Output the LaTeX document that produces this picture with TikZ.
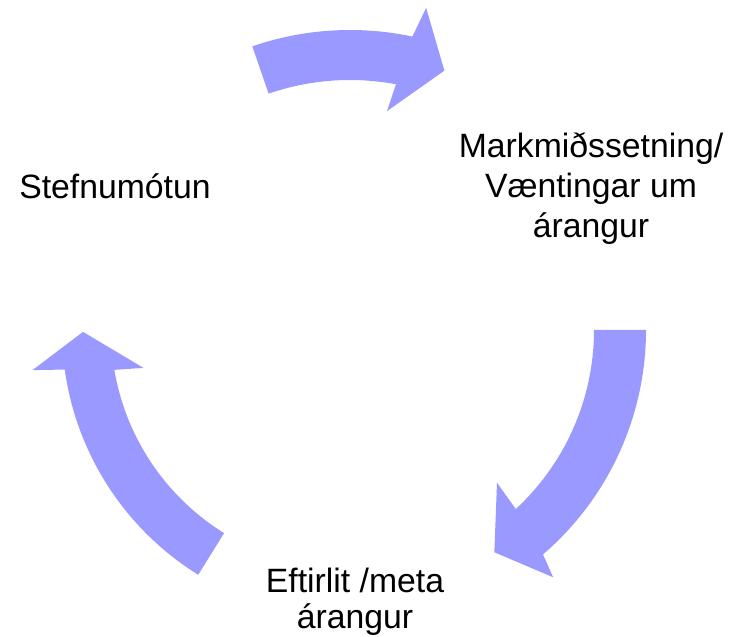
\documentclass[tikz,border=0pt]{standalone}
\usepackage{fontspec}
\setmainfont{Liberation Sans}
\definecolor{cyclefill}{RGB}{153,153,255}
\begin{document}
\begin{tikzpicture}[x=0.02cm,y=0.02cm,
  cyclearrow/.style={fill=cyclefill,draw=none},
  phase/.style={inner sep=0pt,anchor=base,align=center,font=\fontsize{19.2}{#1}\selectfont},
  phase/.default=22]
\useasboundingbox(0,0)rectangle(740,636);
%labels
\node[phase](policy)at(115,437){Stefnumótun};
\node[phase=23](goals)at(591,398){Markmiðssetning/\\Væntingar um\\árangur};
\node[phase=20.4](monitor)at(355,8){Eftirlit /meta\\árangur};
%arrows round the cycle
\begin{scope}[shift={(350,306)}]
\fill[cyclearrow](109:300)arc[start angle=109,end angle=78,radius=300]--(76.7:331)--(70:276)--(80.4:222)--(79.4:250)arc[start angle=79.4,end angle=109,radius=250]--cycle;
\fill[cyclearrow](0:296)arc[start angle=0,end angle=-49.3,radius=296]--(-50.6:320)--(-57:265)--(-46.1:212)--(-47.2:244)arc[start angle=-47.2,end angle=0,radius=244]--cycle;
\fill[cyclearrow](238.2:288)arc[start angle=238.2,end angle=187.9,radius=288]--(187.2:320)--(180.4:267)--(190.4:210)--(189.6:239)arc[start angle=189.6,end angle=238.2,radius=239]--cycle;
\end{scope}
\end{tikzpicture}
\end{document}
